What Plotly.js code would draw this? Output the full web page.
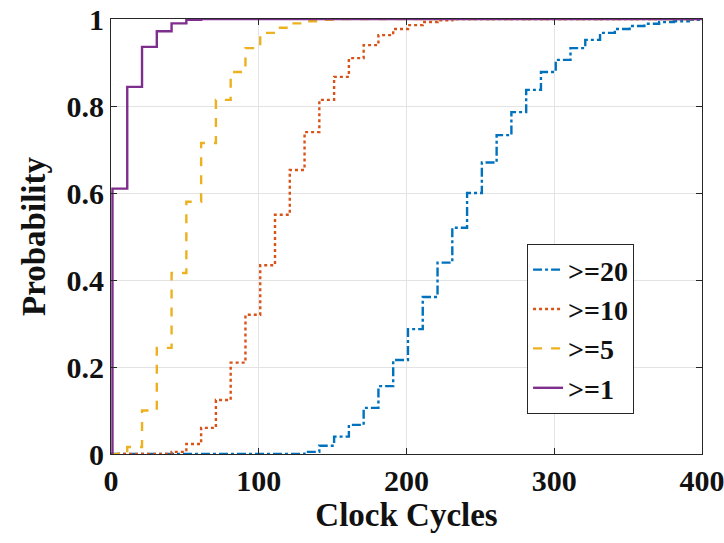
<!DOCTYPE html>
<html>
<head>
<meta charset="utf-8">
<script src="https://cdn.plot.ly/plotly-3.0.1.min.js"></script>
<style>
  html, body { margin: 0; padding: 0; background: #ffffff; }
  #chart { width: 724px; height: 543px; }
</style>
</head>
<body>
<div id="chart"></div>
<script>
// Step positions (clock cycles) and cumulative probabilities
const seriesNames = ["&gt;=20", "&gt;=10", "&gt;=5", "&gt;=1"];

const x20 = [0, 131, 141, 151, 161, 171, 181, 191, 201, 211, 221, 231, 241, 251, 261, 271, 281, 291, 301, 311, 321, 331, 341, 351, 361, 371, 381, 391, 400];
const p20 = [0, 0.005, 0.019, 0.04, 0.067, 0.106, 0.156, 0.216, 0.287, 0.361, 0.44, 0.52, 0.60, 0.67, 0.733, 0.786, 0.837, 0.878, 0.906, 0.933, 0.952, 0.968, 0.977, 0.984, 0.989, 0.993, 0.995, 0.998, 1];

const x10 = [0, 41, 51, 61, 71, 81, 91, 101, 111, 121, 131, 141, 151, 161, 171, 181, 191, 201, 211, 221, 231, 400];
const p10 = [0, 0.005, 0.023, 0.06, 0.124, 0.21, 0.32, 0.434, 0.55, 0.653, 0.74, 0.814, 0.867, 0.91, 0.94, 0.963, 0.977, 0.986, 0.993, 0.997, 1, 1];

const x5 = [0, 11, 21, 31, 41, 51, 61, 71, 81, 91, 101, 111, 121, 131, 141, 151, 400];
const p5 = [0, 0.016, 0.10, 0.244, 0.416, 0.58, 0.715, 0.814, 0.878, 0.933, 0.968, 0.98, 0.99, 0.995, 0.998, 1, 1];

const x1 = [0, 1, 11, 21, 31, 41, 51, 61, 400];
const p1 = [0, 0.61, 0.844, 0.936, 0.972, 0.99, 0.998, 1, 1];

const xTicks = [0, 100, 200, 300, 400];
const yTicks = [0, 0.2, 0.4, 0.6, 0.8, 1];
const yTickText = ["0", "0.2", "0.4", "0.6", "0.8", "1"];

const colors = ["#0072BD", "#D95319", "#EDB120", "#7E2F8E"];
const dashes = ["dashdot", "dot", "dash", "solid"];
const xs = [x20, x10, x5, x1];
const ps = [p20, p10, p5, p1];

const traces = seriesNames.map((n, i) => ({
  x: xs[i], y: ps[i],
  name: '<span style="font-family:Liberation Serif;font-weight:bold">' + n + '</span>',
  type: "scatter", mode: "lines",
  line: { shape: "hv", color: colors[i], dash: dashes[i], width: 2.4 }
}));

const serif = "Liberation Serif";

const layout = {
  width: 724, height: 543,
  margin: { l: 111, r: 22, t: 19, b: 89 },
  paper_bgcolor: "#ffffff", plot_bgcolor: "#ffffff",
  font: { family: serif, color: "#111111", weight: "bold" },
  showlegend: true,
  legend: {
    x: 0.704, y: 0.483, xanchor: "left", yanchor: "top",
    bgcolor: "#ffffff", bordercolor: "#262626", borderwidth: 1,
    font: { family: serif, size: 28, color: "#111111", weight: "bold" },
    tracegroupgap: 0
  },
  xaxis: {
    range: [0, 400], tickvals: xTicks, ticktext: xTicks.map(String),
    showgrid: true, gridcolor: "#e3e3e3", gridwidth: 1, zeroline: false,
    showline: true, linecolor: "#262626", linewidth: 1, mirror: "ticks",
    ticks: "inside", ticklen: 6, tickcolor: "#262626",
    ticklabeloverflow: "allow",
    tickfont: { family: serif, size: 30, color: "#111111", weight: "bold" },
    title: { text: "Clock Cycles", font: { family: serif, size: 33, color: "#111111", weight: "bold" }, standoff: 6 }
  },
  yaxis: {
    range: [0, 1], tickvals: yTicks, ticktext: yTickText,
    showgrid: true, gridcolor: "#e3e3e3", gridwidth: 1, zeroline: false,
    showline: true, linecolor: "#262626", linewidth: 1, mirror: "ticks",
    ticks: "inside", ticklen: 6, tickcolor: "#262626",
    ticklabeloverflow: "allow",
    tickfont: { family: serif, size: 30, color: "#111111", weight: "bold" },
    title: { text: "Probability", font: { family: serif, size: 33, color: "#111111", weight: "bold" }, standoff: 10 }
  }
};

Plotly.newPlot("chart", traces, layout, { displayModeBar: false, staticPlot: true });
</script>
</body>
</html>
